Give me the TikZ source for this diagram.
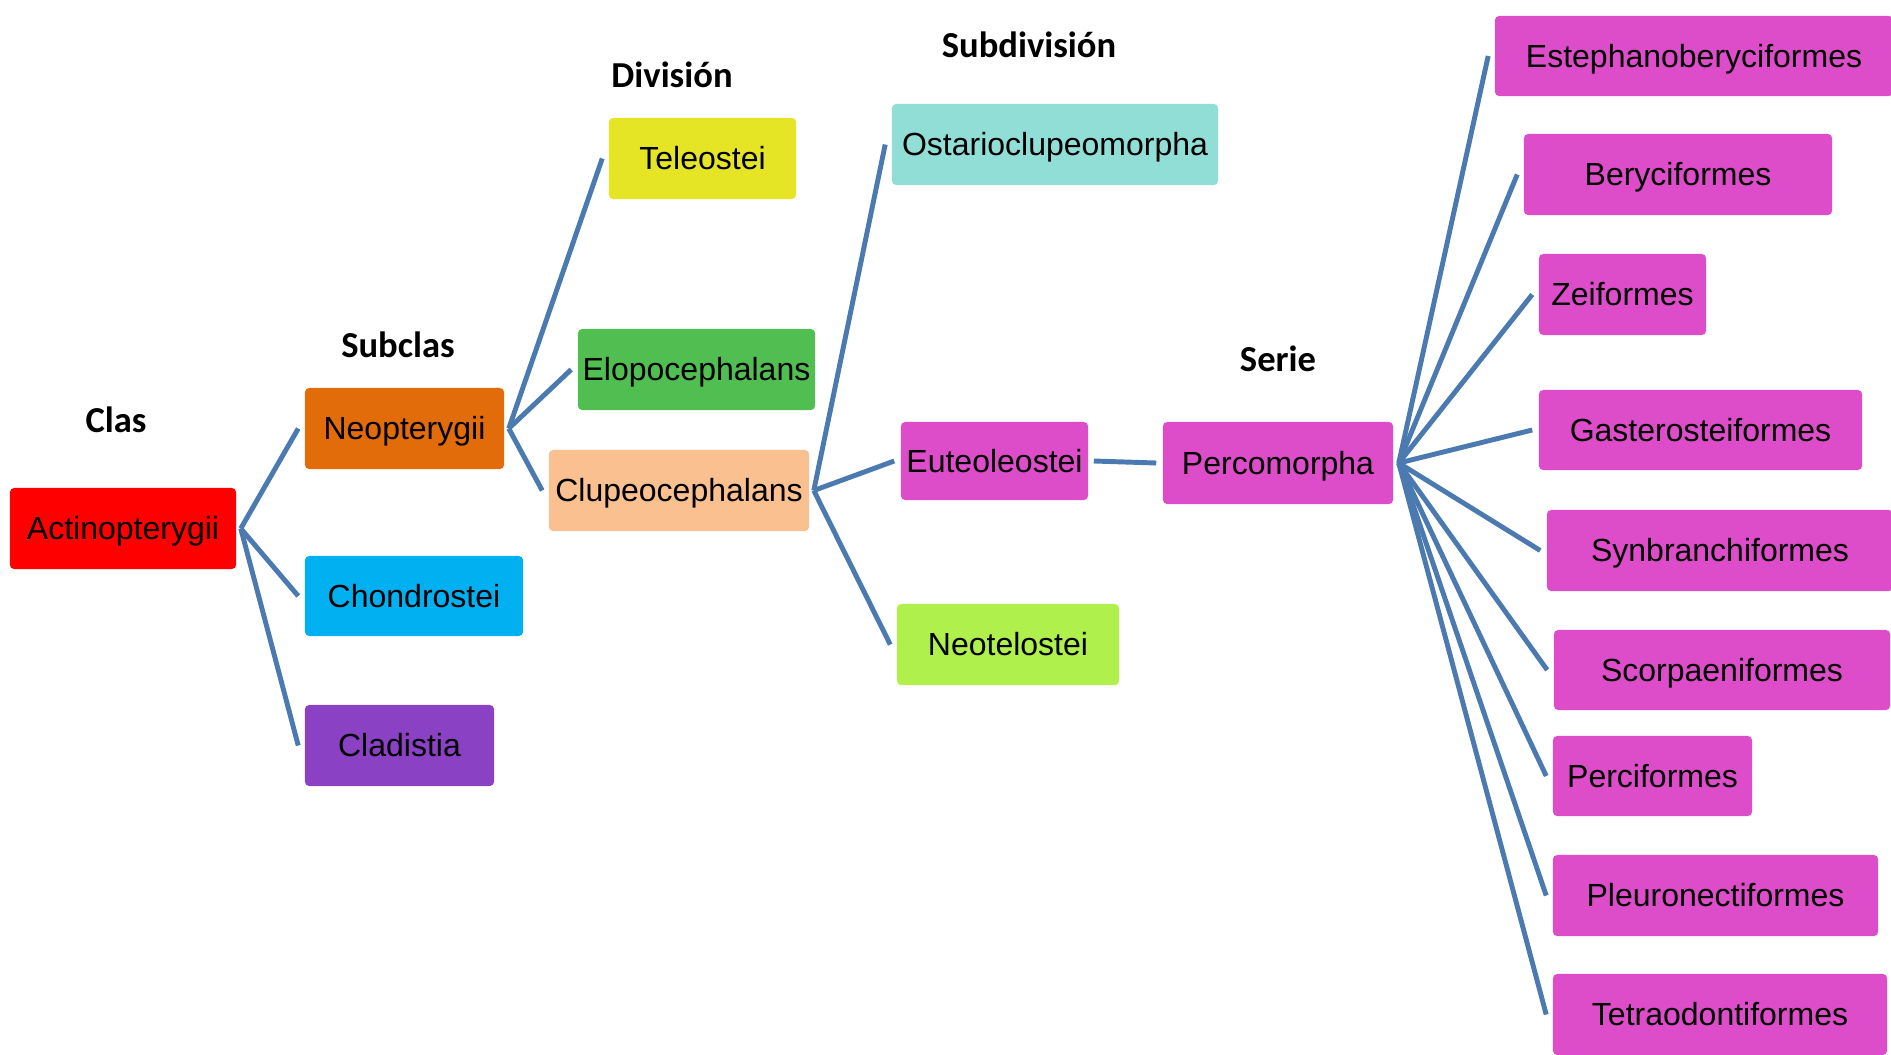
\documentclass[tikz,border=0pt]{standalone}
\usepackage{fontspec}
\setmainfont{Liberation Sans}
\newfontfamily\headfont{Carlito}
\definecolor{linkblue}{RGB}{74,122,176}
\definecolor{cRed}{RGB}{255,0,0}
\definecolor{cOrange}{RGB}{227,108,10}
\definecolor{cCyan}{RGB}{0,176,240}
\definecolor{cPurple}{RGB}{139,65,196}
\definecolor{cYellow}{RGB}{229,229,38}
\definecolor{cGreen}{RGB}{80,190,80}
\definecolor{cPeach}{RGB}{250,192,144}
\definecolor{cTeal}{RGB}{144,222,214}
\definecolor{cMagenta}{RGB}{221,77,201}
\definecolor{cLime}{RGB}{176,240,76}
\begin{document}
\begin{tikzpicture}[x=0.01cm,y=-0.01cm,
  taxon/.style={rectangle, rounded corners=1.2pt, inner sep=0pt, text=black,
    text height=0.29cm, text depth=0.07cm,
    font=\fontsize{9.1pt}{11pt}\selectfont},
  rank/.style={inner sep=0pt, text height=0.30cm, text depth=0.06cm,
    font=\headfont\bfseries\fontsize{10.4pt}{12pt}\selectfont},
  link/.style={draw=linkblue, line width=1.4pt}]
\useasboundingbox (0,0) rectangle (1891,1054);
\fill[white] (0,0) rectangle (1891,1054);

% rank headings
\node[rank] (hClas) at (116,420) {Clas};
\node[rank] (hSubclas) at (398,345) {Subclas};
\node[rank] (hDiv) at (672,75) {División};
\node[rank] (hSubdiv) at (1029,45) {Subdivisión};
\node[rank] (hSerie) at (1278,359) {Serie};

% class and subclasses
\node[taxon, fill=cRed, minimum width=2.26cm, minimum height=0.81cm] (act) at (123,528.5) {Actinopterygii};
\node[taxon, fill=cOrange, minimum width=1.99cm, minimum height=0.81cm] (neo) at (404.5,428.5) {Neopterygii};
\node[taxon, fill=cCyan, minimum width=2.18cm, minimum height=0.80cm] (cho) at (414,596) {Chondrostei};
\node[taxon, fill=cPurple, minimum width=1.89cm, minimum height=0.81cm] (cla) at (399.5,745.5) {Cladistia};

% divisions
\node[taxon, fill=cYellow, minimum width=1.87cm, minimum height=0.81cm] (tel) at (702.5,158.5) {Teleostei};
\node[taxon, fill=cGreen, minimum width=2.37cm, minimum height=0.81cm] (elo) at (696.5,369.5) {Elopocephalans};
\node[taxon, fill=cPeach, minimum width=2.60cm, minimum height=0.81cm] (clu) at (679,490.5) {Clupeocephalans};

% subdivisions
\node[taxon, fill=cTeal, minimum width=3.26cm, minimum height=0.81cm] (ost) at (1055,144.5) {Ostarioclupeomorpha};
\node[taxon, fill=cMagenta, minimum width=1.87cm, minimum height=0.78cm] (eut) at (994.5,461) {Euteoleostei};
\node[taxon, fill=cLime, minimum width=2.22cm, minimum height=0.81cm] (neot) at (1008,644.5) {Neotelostei};

% series
\node[taxon, fill=cMagenta, minimum width=2.30cm, minimum height=0.82cm] (per) at (1278,463) {Percomorpha};

% orders
\node[taxon, fill=cMagenta, minimum width=3.98cm, minimum height=0.80cm] (est) at (1694,56) {Estephanoberyciformes};
\node[taxon, fill=cMagenta, minimum width=3.08cm, minimum height=0.81cm] (ber) at (1678,174.5) {Beryciformes};
\node[taxon, fill=cMagenta, minimum width=1.67cm, minimum height=0.81cm] (zei) at (1622.5,294.5) {Zeiformes};
\node[taxon, fill=cMagenta, minimum width=3.23cm, minimum height=0.80cm] (gas) at (1700.5,430) {Gasterosteiformes};
\node[taxon, fill=cMagenta, minimum width=3.46cm, minimum height=0.81cm] (syn) at (1720,550.5) {Synbranchiformes};
\node[taxon, fill=cMagenta, minimum width=3.36cm, minimum height=0.80cm] (sco) at (1722,670) {Scorpaeniformes};
\node[taxon, fill=cMagenta, minimum width=1.99cm, minimum height=0.80cm] (pcf) at (1652.5,776) {Perciformes};
\node[taxon, fill=cMagenta, minimum width=3.25cm, minimum height=0.81cm] (ple) at (1715.5,895.5) {Pleuronectiformes};
\node[taxon, fill=cMagenta, minimum width=3.34cm, minimum height=0.81cm] (tet) at (1720,1014.5) {Tetraodontiformes};

% connectors
\foreach \child in {neo,cho,cla}
  \draw[link] ([xshift=0.04cm]act.east) -- ([xshift=-0.06cm]\child.west);
\foreach \child in {tel,elo,clu}
  \draw[link] ([xshift=0.04cm]neo.east) -- ([xshift=-0.06cm]\child.west);
\foreach \child in {ost,eut,neot}
  \draw[link] ([xshift=0.04cm]clu.east) -- ([xshift=-0.06cm]\child.west);
\draw[link] ([xshift=0.05cm]eut.east) -- ([xshift=-0.06cm]per.west);
\foreach \child in {est,ber,zei,gas,syn,sco,pcf,ple,tet}
  \draw[link] ([xshift=0.05cm]per.east) -- ([xshift=-0.06cm]\child.west);
\end{tikzpicture}
\end{document}
